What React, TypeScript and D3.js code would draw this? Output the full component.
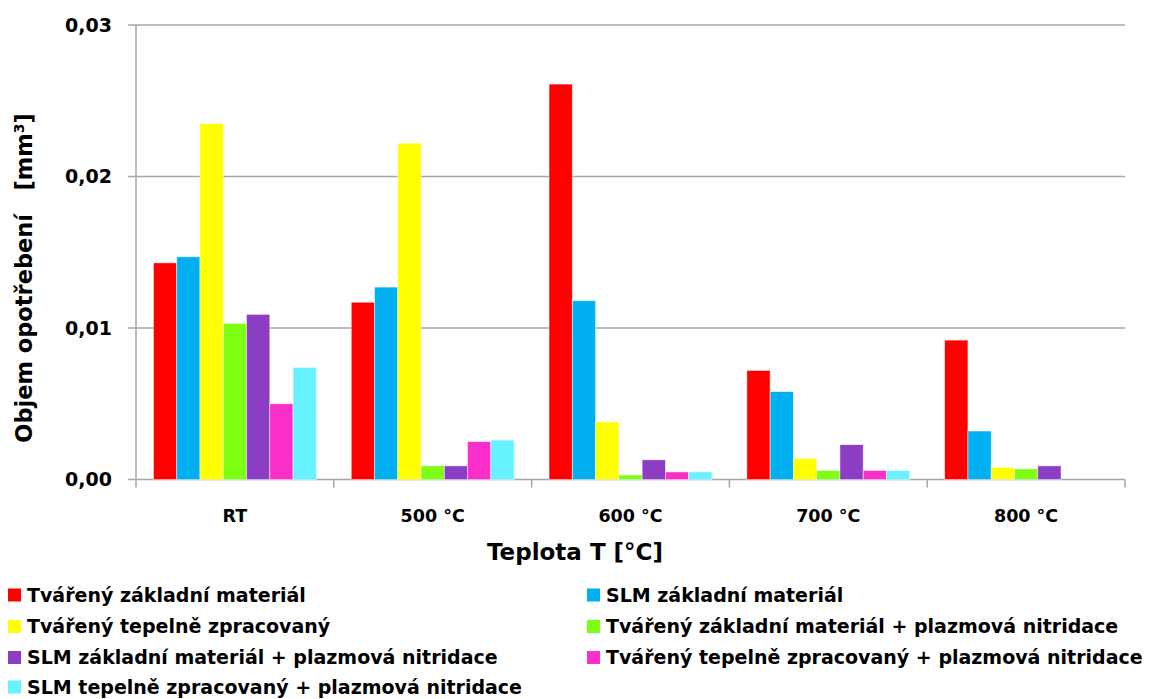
import React from "react";
import * as d3 from "d3";

const categories = ["RT", "500 °C", "600 °C", "700 °C", "800 °C"];
const seriesNames = [
  "Tvářený základní materiál",
  "SLM základní materiál",
  "Tvářený tepelně zpracovaný",
  "Tvářený základní materiál + plazmová nitridace",
  "SLM základní materiál + plazmová nitridace",
  "Tvářený tepelně zpracovaný + plazmová nitridace",
  "SLM tepelně zpracovaný + plazmová nitridace",
];
const seriesColors = ["#FF0000", "#00B0F0", "#FFFF00", "#7CFF12", "#8B3DC4", "#FA2EC8", "#66F2FF"];

const tvarenyZakladni = [0.0143, 0.0117, 0.0261, 0.0072, 0.0092];
const slmZakladni = [0.0147, 0.0127, 0.0118, 0.0058, 0.0032];
const tvarenyTepelne = [0.0235, 0.0222, 0.0038, 0.0014, 0.0008];
const tvarenyZakladniNitr = [0.0103, 0.0009, 0.0003, 0.0006, 0.0007];
const slmZakladniNitr = [0.0109, 0.0009, 0.0013, 0.0023, 0.0009];
const tvarenyTepelneNitr = [0.0050, 0.0025, 0.0005, 0.0006, null];
const slmTepelneNitr = [0.0074, 0.0026, 0.0005, 0.0006, null];

const seriesValues = [
  tvarenyZakladni,
  slmZakladni,
  tvarenyTepelne,
  tvarenyZakladniNitr,
  slmZakladniNitr,
  tvarenyTepelneNitr,
  slmTepelneNitr,
];

const yTicks = [0, 0.01, 0.02, 0.03];

const FONT = "'DejaVu Sans', sans-serif";

export default function App() {
  const W = 1158, H = 699;
  const left = 136, right = 1125, top = 25, bottom = 479.5;
  const x0 = d3.scaleBand<string>().domain(categories).range([left, right]).padding(0);
  const x1 = d3.scaleBand<number>().domain(d3.range(seriesNames.length)).range([0, x0.bandwidth()]).paddingInner(0).paddingOuter(0.75);
  const y = d3.scaleLinear().domain([0, 0.03]).range([bottom, top]);
  const tickFmt = (v: number) => v.toFixed(2).replace(".", ",");

  const legendPos = [
    [8, 595], [587, 595],
    [8, 626.5], [587, 626.5],
    [8, 657.5], [587, 657.5],
    [8, 687],
  ];

  return (
    <svg width={W} height={H} style={{ position: "absolute", left: 0, top: 0, background: "#fff" }} fontFamily={FONT}>
      <rect x={0} y={0} width={W} height={H} fill="#fff" />
      {yTicks.map((t) => (
        <line key={"g" + t} x1={left - 8} x2={right} y1={y(t)} y2={y(t)} stroke="#A6A6A6" strokeWidth={1.5} />
      ))}
      <line x1={left} x2={left} y1={top} y2={bottom} stroke="#A6A6A6" strokeWidth={1.5} />
      {[...categories.map((c) => x0(c)!), right].map((xx, i) => (
        <line key={"xt" + i} x1={xx} x2={xx} y1={bottom} y2={bottom + 8} stroke="#A6A6A6" strokeWidth={1.5} />
      ))}
      {seriesValues.map((vals, si) =>
        vals.map((v, ci) =>
          v == null ? null : (
            <rect
              key={si + "-" + ci}
              x={x0(categories[ci])! + x1(si)!}
              y={y(v)}
              width={x1.bandwidth()}
              height={y(0) - y(v)}
              fill={seriesColors[si]}
              stroke="rgba(255,255,255,0.6)"
              strokeWidth={0.8}
            />
          )
        )
      )}
      {yTicks.map((t) => (
        <text key={"yl" + t} x={112} y={y(t)} dy="0.36em" textAnchor="end" fontSize={19} fontWeight="bold" fill="#000">
          {tickFmt(t)}
        </text>
      ))}
      {categories.map((c) => (
        <text key={"xl" + c} x={x0(c)! + x0.bandwidth() / 2} y={516} dy="0.36em" textAnchor="middle" fontSize={17.5} fontWeight="bold" fill="#000">
          {c}
        </text>
      ))}
      <text x={575} y={552} dy="0.36em" textAnchor="middle" fontSize={23} fontWeight="bold" fill="#000">
        Teplota T [°C]
      </text>
      <text transform="translate(24,278) rotate(-90)" textAnchor="middle" dy="0.36em" fontSize={22.5} fontWeight="bold" fill="#000" style={{ whiteSpace: "pre" }}>
        {"Objem opotřebení   [mm"}<tspan dy="-8" fontSize={14}>3</tspan><tspan dy="8">]</tspan>
      </text>
      {seriesNames.map((n, i) => (
        <g key={"lg" + i} transform={`translate(${legendPos[i][0]},${legendPos[i][1]})`}>
          <rect x={0} y={-6.5} width={13} height={13} fill={seriesColors[i]} />
          <text x={19} y={0} dy="0.36em" fontSize={19} fontWeight="bold" fill="#000">
            {n}
          </text>
        </g>
      ))}
    </svg>
  );
}
